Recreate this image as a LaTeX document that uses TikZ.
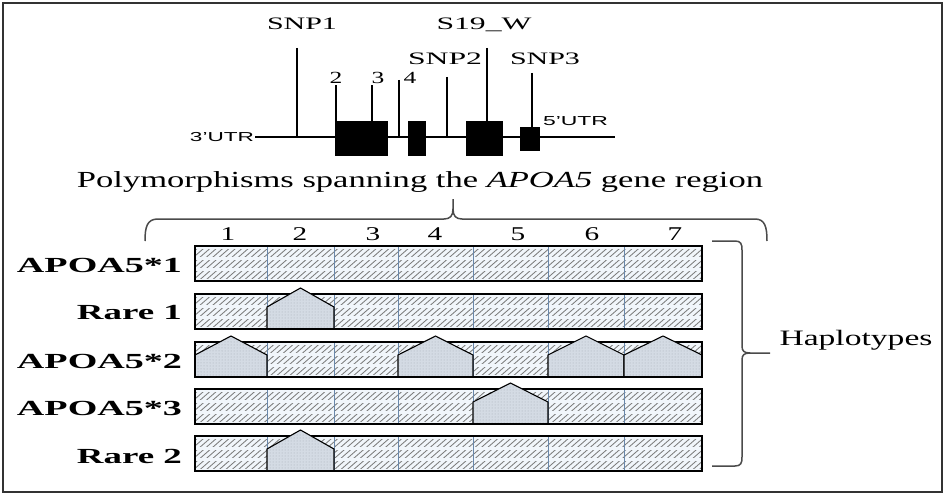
\documentclass[tikz,border=0pt]{standalone}
\usepackage{fontspec}
\setmainfont{Liberation Serif}
\newfontfamily\utrfont{Liberation Sans}
\usetikzlibrary{patterns}
\definecolor{cellfill}{RGB}{241,246,251}
\definecolor{hatchc}{RGB}{125,125,125}
\definecolor{divc}{RGB}{105,135,170}
\definecolor{pentfill}{RGB}{212,219,228}
\definecolor{dotc}{RGB}{165,172,182}
\definecolor{bracec}{RGB}{75,75,75}
\definecolor{framec}{RGB}{50,50,50}
\newcommand{\hs}[2]{\resizebox{#1}{\height}{#2}}
\tikzset{
  txt/.style={inner sep=0pt, outer sep=0pt},
  rowlab/.style={txt, font=\fontsize{21.5}{24}\selectfont\bfseries, anchor=east},
  colnum/.style={txt, font=\fontsize{19.5}{22}\selectfont, anchor=base},
  snplab/.style={txt, font=\fontsize{17.5}{20}\selectfont, anchor=base},
  exnum/.style={txt, font=\fontsize{17}{19}\selectfont, anchor=base},
  utrlab/.style={txt, font=\utrfont\fontsize{13}{15}\selectfont},
  snpline/.style={line width=2pt, black},
  exon/.style={fill=black, draw=none},
  rowborder/.style={line width=2.6pt, black},
  divider/.style={line width=0.9pt, divc},
  hatchline/.style={line width=0.85pt, hatchc},
  pentline/.style={line width=1.1pt, black, line join=miter},
  bracestyle/.style={line width=1.5pt, bracec},
}
% row base: #1 top
\newcommand{\rowbase}[1]{%
  \pgfmathsetmacro{\Tp}{#1}\pgfmathsetmacro{\Bt}{#1+35}%
  \fill[cellfill] (195,\Tp) rectangle (702,\Bt);
  \begin{scope}
    \clip (195,\Tp) rectangle (702,\Bt);
    \foreach \k in {0,...,86} \draw[hatchline] ({160+\k*6.4},\Bt) -- ++(40,-35);
    \draw[cellfill, line width=3pt] (195,\Tp+1.5) -- (702,\Tp+1.5) (195,\Tp+12.5) -- (702,\Tp+12.5) (195,\Tp+23.5) -- (702,\Tp+23.5) (195,\Bt-1) -- (702,\Bt-1);
  \end{scope}
  \foreach \c in {267,334,398,473,548,624} \draw[divider] (\c,\Tp) -- (\c,\Bt);
  \draw[rowborder] (195,\Tp) rectangle (702,\Bt);
}
% pentagon: #1 top, #2 left x, #3 right x
\newcommand{\pent}[3]{%
  \pgfmathsetmacro{\Tp}{#1}\pgfmathsetmacro{\Bt}{#1+35}%
  \pgfmathsetmacro{\Md}{(#2+#3)/2}%
  \fill[pentfill] (#2,\Bt) -- (#2,\Tp+13) -- (\Md,\Tp-6) -- (#3,\Tp+13) -- (#3,\Bt) -- cycle;
  \fill[pattern=dots, pattern color=dotc] (#2,\Bt) -- (#2,\Tp+13) -- (\Md,\Tp-6) -- (#3,\Tp+13) -- (#3,\Bt) -- cycle;
  \draw[pentline] (#2,\Bt) -- (#2,\Tp+13) -- (\Md,\Tp-6) -- (#3,\Tp+13) -- (#3,\Bt);
}
\newcommand{\rowsides}[1]{%
  \pgfmathsetmacro{\Tp}{#1}\pgfmathsetmacro{\Bt}{#1+35}%
  \draw[rowborder] (195,\Tp) -- (195,\Bt) -- (702,\Bt) -- (702,\Tp);
}
\begin{document}
\begin{tikzpicture}[x=1pt,y=-1pt]
\useasboundingbox (0,0) rectangle (945,495);
\fill[white] (0,0) rectangle (945,495);
\draw[framec, line width=1.8pt] (3,3) rectangle (942,492);

% ---------- gene diagram ----------
\coordinate (gl) at (255,137);
\coordinate (gr) at (615,137);
\draw[line width=2.2pt] (gl) -- (gr);
\node[exon, minimum width=53pt, minimum height=35pt, anchor=north west] (ex1) at (335,121) {};
\node[exon, minimum width=18pt, minimum height=35pt, anchor=north west] (ex2) at (408,121) {};
\node[exon, minimum width=37pt, minimum height=35pt, anchor=north west] (ex3) at (466,121) {};
\node[exon, minimum width=20pt, minimum height=24pt, anchor=north west] (ex4) at (520,127) {};

\coordinate (s1t) at (297,48);   \coordinate (s1b) at (297,137);
\coordinate (e2t) at (335.8,85); \coordinate (e2b) at (335.8,121);
\coordinate (e3t) at (372,85);   \coordinate (e3b) at (372,121);
\coordinate (e4t) at (399,80);   \coordinate (e4b) at (399,137);
\coordinate (s2t) at (447,77);   \coordinate (s2b) at (447,137);
\coordinate (swt) at (487,48);   \coordinate (swb) at (487,121);
\coordinate (s3t) at (532,73);   \coordinate (s3b) at (532,127);
\foreach \a/\b in {s1t/s1b,e2t/e2b,e3t/e3b,e4t/e4b,s2t/s2b,swt/swb,s3t/s3b}
  \draw[snpline] (\a) -- (\b);

\node[snplab] (snp1) at (302,30) {\hs{70pt}{SNP1}};
\node[snplab] (s19w) at (484,30) {\hs{95pt}{S19\_W}};
\node[snplab] (snp2) at (445,65) {\hs{74pt}{SNP2}};
\node[snplab] (snp3) at (545,65) {\hs{70pt}{SNP3}};
\node[exnum] (n2) at (336,83) {\scalebox{1.5}[1]{2}};
\node[exnum] (n3) at (378,83) {\scalebox{1.5}[1]{3}};
\node[exnum] (n4) at (410,83) {\scalebox{1.5}[1]{4}};
\node[utrlab, anchor=east] (utr3) at (254,137) {\hs{64pt}{3’UTR}};
\node[utrlab, anchor=west] (utr5) at (543,121) {\hs{65pt}{5’UTR}};

\node[txt, anchor=base, font=\fontsize{23}{26}\selectfont] (cap) at (420,187)
  {\hs{686pt}{Polymorphisms spanning the \textit{APOA5} gene region}};

% ---------- top brace ----------
\draw[bracestyle] (145,241) .. controls (145,227) and (147,219) .. (158,219) -- (444,219)
  .. controls (450,219) and (453,216) .. (453,209) -- (453,199);
\draw[bracestyle] (453,209) .. controls (453,216) and (456,219) .. (462,219) -- (755,219)
  .. controls (765,219) and (767,227) .. (767,241);

% ---------- column numbers ----------
\foreach \x/\n in {228/1,300/2,373/3,435/4,518/5,592/6,675/7}
  \node[colnum] (c\n) at (\x,240) {\scalebox{1.5}[1]{\n}};

% ---------- haplotype rows ----------
\rowbase{246}
\rowbase{294}
\pent{294}{267}{334}
\rowsides{294}
\rowbase{342}
\pent{342}{195}{267}
\pent{342}{398}{473}
\pent{342}{548}{624}
\pent{342}{624}{702}
\rowsides{342}
\rowbase{389}
\pent{389}{473}{548}
\rowsides{389}
\rowbase{436}
\pent{436}{267}{334}
\rowsides{436}

\node[rowlab] (l1) at (182,265) {\hs{165pt}{APOA5*1}};
\node[rowlab] (l2) at (182,313) {\hs{105pt}{Rare 1}};
\node[rowlab] (l3) at (182,361) {\hs{165pt}{APOA5*2}};
\node[rowlab] (l4) at (182,408) {\hs{165pt}{APOA5*3}};
\node[rowlab] (l5) at (182,456) {\hs{105pt}{Rare 2}};

% ---------- haplotypes brace ----------
\draw[bracestyle] (712,241) -- (735,241) .. controls (741,241) and (742,244) .. (742,250) -- (742,346)
  .. controls (742,351) and (744,353) .. (750,353) -- (770,353);
\draw[bracestyle] (750,353) .. controls (744,353) and (742,355) .. (742,360) -- (742,457)
  .. controls (742,463) and (741,466) .. (735,466) -- (712,466);
\node[txt, anchor=base, font=\fontsize{22}{25}\selectfont] (hap) at (856,345) {\hs{153pt}{Haplotypes}};
\end{tikzpicture}
\end{document}
